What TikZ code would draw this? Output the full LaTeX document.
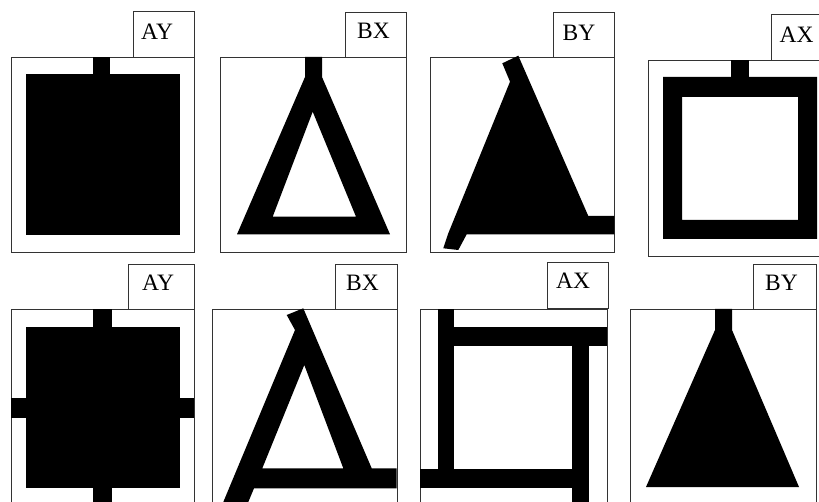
\documentclass[tikz,border=0pt]{standalone}
\usepackage{fontspec}
\setmainfont{Liberation Serif}
\begin{document}
\begin{tikzpicture}[x=1pt,y=-1pt,
  frame/.style={draw=black!80, line width=0.9pt, fill=white},
  solid/.style={fill=black, draw=none},
  lbl/.style={anchor=base west, inner sep=0pt, font=\fontsize{23.5}{24}\selectfont}]
\useasboundingbox (0,0) rectangle (819,502);
\clip (0,0) rectangle (819,502);

% ---------- Panel 1 (AY) ----------
\draw[frame] (11,57) rectangle (194,252);
\draw[frame] (133,11) rectangle (194,57);
\node[lbl] (t1) at (141,40) {AY};
\fill[solid] (26,74) rectangle (180,235);
\fill[solid] (93,57) rectangle (110,74);

% ---------- Panel 2 (BX) ----------
\draw[frame] (220,57) rectangle (406,252);
\draw[frame] (345,12) rectangle (406,57);
\node[lbl] (t2) at (357,38.5) {BX};
\fill[solid, even odd rule] (237,234.3) -- (305,77) -- (305,57) -- (322,57) -- (322,77) -- (390,234.3) -- cycle
  (312.7,111.7) -- (356,216.7) -- (272.7,216.7) -- cycle;

% ---------- Panel 3 (BY) ----------
\draw[frame] (430,57) rectangle (614,252);
\draw[frame] (553,12) rectangle (614,57);
\node[lbl] (t3) at (562.5,40.5) {BY};
\fill[solid] (502.3,63.3) -- (518.3,55.7) -- (588.3,216) -- (614.3,216) -- (614.3,234.3)
  -- (466.7,234.3) -- (458.3,250) -- (443.3,248.3) -- (448.3,233.3) -- (510,81.7) -- cycle;

% ---------- Panel 4 (AX) ----------
\draw[frame] (648,60) rectangle (823,256);
\draw[frame] (771,14) rectangle (823,60);
\node[lbl] (t4) at (779.5,43) {AX};
\fill[solid, even odd rule] (663,77) rectangle (817,239) (682,97) rectangle (798,220);
\fill[solid] (731,60) rectangle (749,77);

% ---------- Panel 5 (AY) ----------
\draw[frame] (11,309) rectangle (194,506);
\draw[frame] (128,264) rectangle (194,309);
\node[lbl] (t5) at (142,291) {AY};
\fill[solid] (26,327) rectangle (180,488);
\fill[solid] (93,309) rectangle (112,327);
\fill[solid] (93,488) rectangle (112,503);
\fill[solid] (11,398) rectangle (26,418);
\fill[solid] (180,398) rectangle (194,418);

% ---------- Panel 6 (BX) ----------
\draw[frame] (212,309) rectangle (397,506);
\draw[frame] (335,264) rectangle (397,309);
\node[lbl] (t6) at (346,291) {BX};
\fill[solid, even odd rule] (286.7,315) -- (303.3,308.3) -- (371.7,468.3) -- (396.7,468.3) -- (396.7,488.3)
  -- (254,488.3) -- (248.3,502) -- (223.3,502) -- (295,330) -- cycle
  (304.3,365) -- (343.3,468.3) -- (262.3,468.3) -- cycle;

% ---------- Panel 7 (AX) ----------
\draw[frame] (420,309) rectangle (607,506);
\draw[frame] (547,262) rectangle (608,308);
\node[lbl] (t7) at (556,289) {AX};
\fill[solid] (438,309) rectangle (454,488);
\fill[solid] (438,327) rectangle (607,346);
\fill[solid] (572,327) rectangle (589,503);
\fill[solid] (420,469) rectangle (589,488);

% ---------- Panel 8 (BY) ----------
\draw[frame] (630,309) rectangle (816,506);
\draw[frame] (753,264) rectangle (816,309);
\node[lbl] (t8) at (765,291) {BY};
\fill[solid] (646,487) -- (715,330) -- (715,309) -- (732,309) -- (732,330) -- (799,487) -- cycle;
\end{tikzpicture}
\end{document}
